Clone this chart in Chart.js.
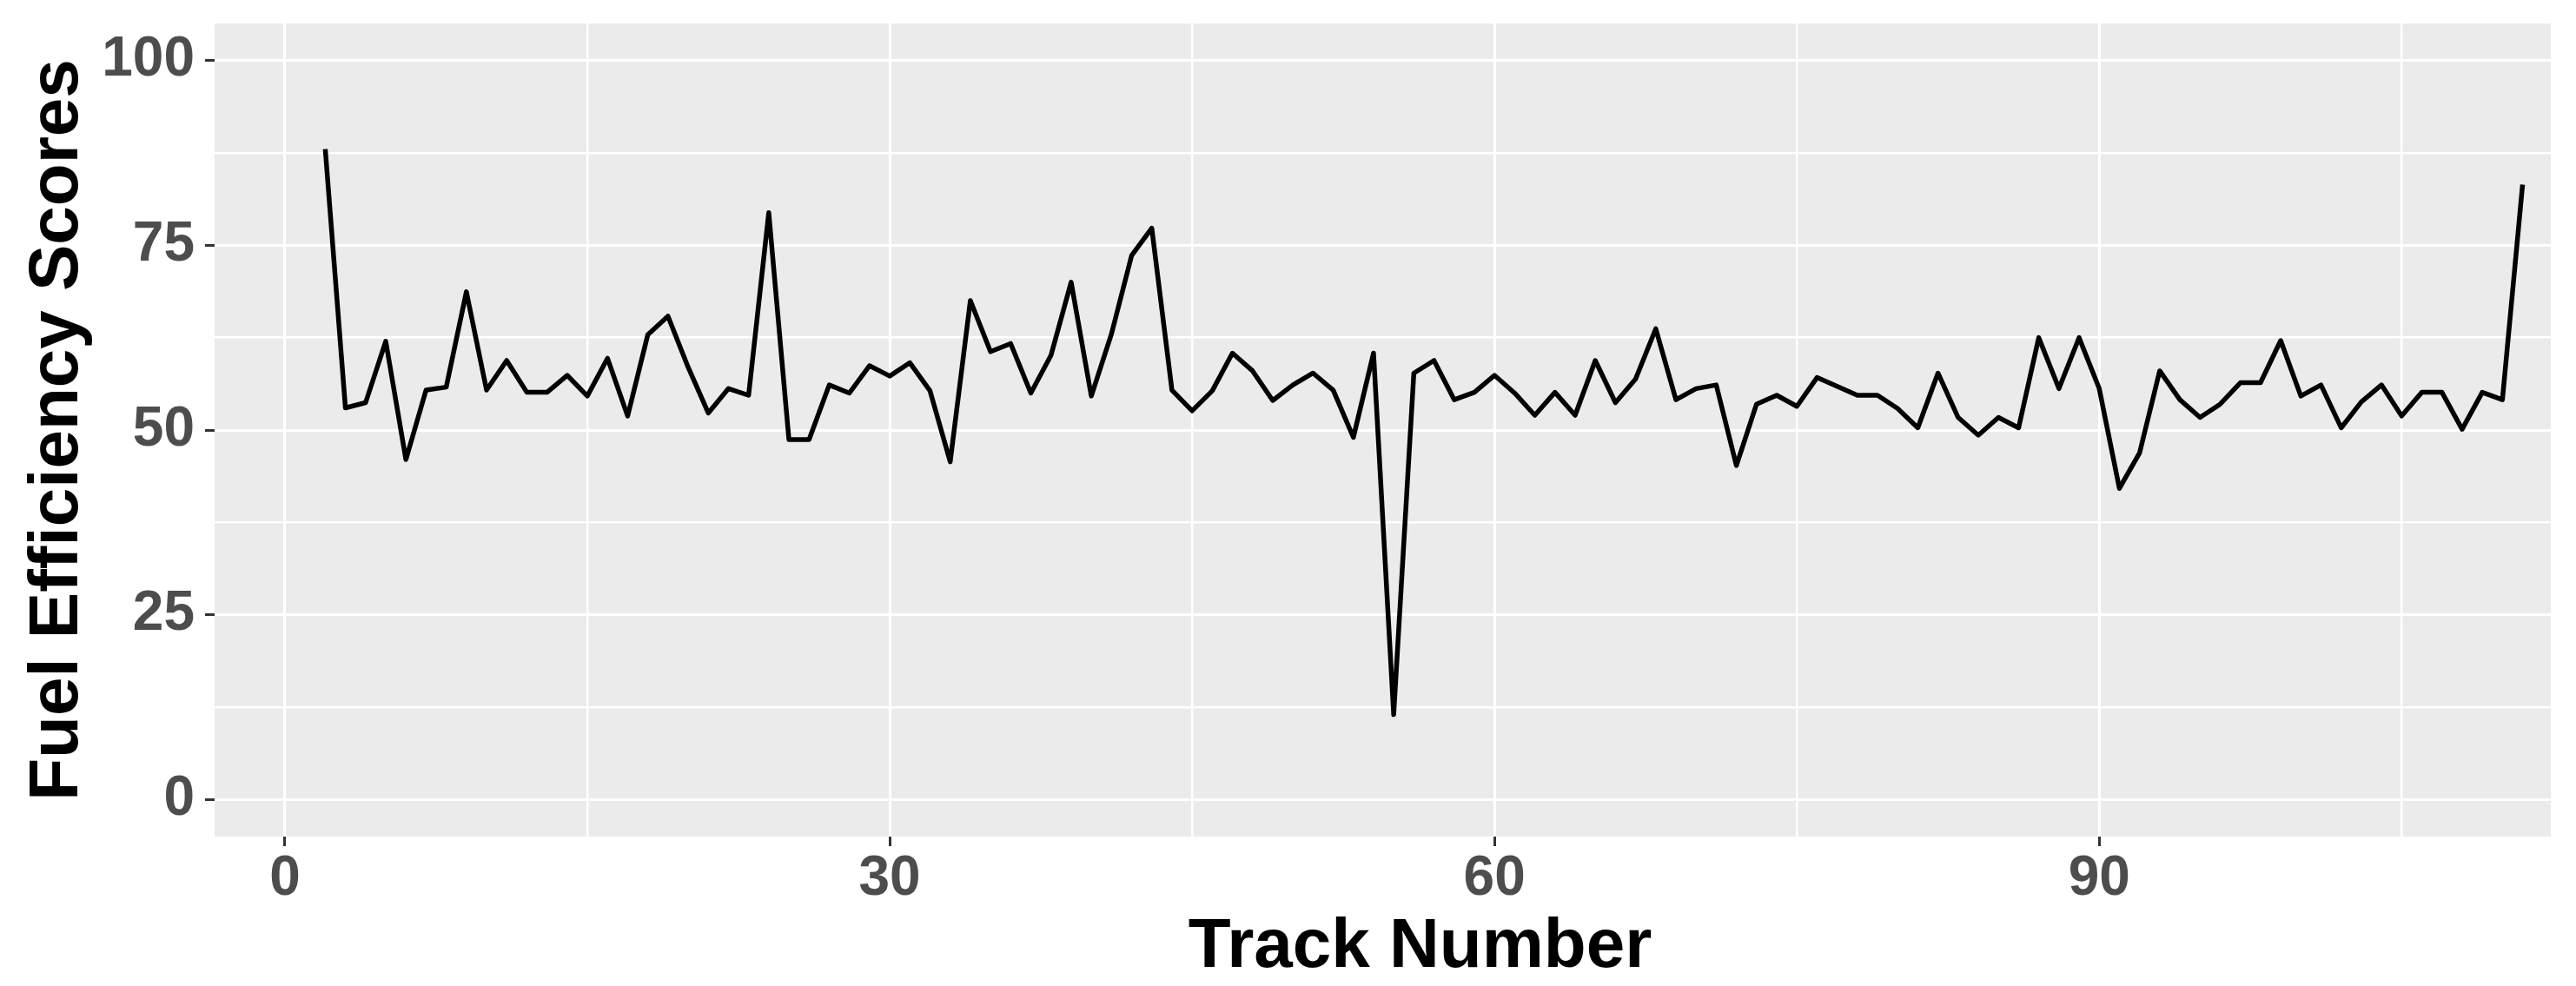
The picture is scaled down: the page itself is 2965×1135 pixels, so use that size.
<!DOCTYPE html>
<html>
<head>
<meta charset="utf-8">
<script src="https://cdn.jsdelivr.net/npm/chart.js@4.4.1/dist/chart.umd.min.js"></script>
<style>
  html, body { margin: 0; padding: 0; background: #ffffff; }
  #wrap { width: 2965px; height: 1135px; }
</style>
</head>
<body>
<div id="wrap"><canvas id="chart" width="2965" height="1135"></canvas></div>
<script>
// データ
const firstTrack = 2;
const scores = [
  88, 53, 53.7, 62, 46, 55.4, 55.8, 68.7, 55.4, 59.4,
  55.1, 55.1, 57.4, 54.6, 59.7, 51.9, 62.9, 65.4, 58.5, 52.3,
  55.6, 54.7, 79.4, 48.7, 48.7, 56.1, 55, 58.7, 57.3, 59.1,
  55.3, 45.7, 67.5, 60.6, 61.7, 55, 60.1, 70, 54.6, 63,
  73.6, 77.3, 55.4, 52.6, 55.3, 60.4, 58, 54, 56.1, 57.7,
  55.4, 49, 60.4, 11.5, 57.7, 59.4, 54.1, 55.1, 57.4, 55,
  52, 55.1, 52, 59.4, 53.7, 56.9, 63.7, 54.1, 55.6, 56.1,
  45.2, 53.5, 54.7, 53.2, 57.1, 55.9, 54.7, 54.7, 52.9, 50.3,
  57.7, 51.7, 49.3, 51.7, 50.3, 62.5, 55.6, 62.5, 55.6, 42.1,
  46.9, 58, 54.1, 51.7, 53.5, 56.4, 56.4, 62.1, 54.6, 56.1,
  50.3, 53.8, 56.1, 51.9, 55.1, 55.1, 50.1, 55.1, 54.1, 83.2
];

// 目盛り（主目盛りにラベル、副目盛りはグリッドのみ）
const xGridValues = [0, 15, 30, 45, 60, 75, 90, 105];
const xLabelValues = [0, 30, 60, 90];
const yGridValues = [0, 12.5, 25, 37.5, 50, 62.5, 75, 87.5, 100];
const yLabelValues = [0, 25, 50, 75, 100];

const xTitle = "Track Number";
const yTitle = "Fuel Efficiency Scores";

const points = scores.map((y, i) => ({ x: firstTrack + i, y: y }));

const fontFamily = "'Liberation Sans', Arial, sans-serif";
const tickFont = { family: fontFamily, size: 64, weight: "bold" };
const titleFont = { family: fontFamily, size: 80, weight: "bold" };

// パネル背景（灰色）
const panelBackground = {
  id: "panelBackground",
  beforeDraw(chart) {
    const { ctx, chartArea } = chart;
    ctx.save();
    ctx.fillStyle = "#EBEBEB";
    ctx.fillRect(chartArea.left, chartArea.top, chartArea.right - chartArea.left, chartArea.bottom - chartArea.top);
    ctx.restore();
  },
};

// x軸タイトル（元の図では少し右寄り）
const xAxisTitle = {
  id: "xAxisTitle",
  afterDraw(chart) {
    const { ctx, chartArea } = chart;
    ctx.save();
    ctx.font = "bold 80px " + fontFamily;
    ctx.fillStyle = "#000000";
    ctx.textAlign = "center";
    ctx.textBaseline = "alphabetic";
    ctx.fillText(xTitle, (chartArea.left + chartArea.right) / 2 + 43, 1113);
    ctx.restore();
  },
};

const ctx = document.getElementById("chart").getContext("2d");
new Chart(ctx, {
  type: "line",
  data: {
    datasets: [
      {
        data: points,
        borderColor: "#000000",
        borderWidth: 5.5,
        borderJoinStyle: "round",
        pointRadius: 0,
        tension: 0,
        fill: false,
      },
    ],
  },
  options: {
    responsive: false,
    animation: false,
    layout: { padding: { left: 0, top: 27, right: 29, bottom: 0 } },
    plugins: {
      legend: { display: false },
      tooltip: { enabled: false },
    },
    scales: {
      x: {
        type: "linear",
        min: -3.49,
        max: 112.4,
        border: { display: false },
        afterBuildTicks: (scale) => {
          scale.ticks = xGridValues.map((v) => ({ value: v }));
        },
        afterFit: (scale) => {
          scale.height = 172;
          scale.paddingLeft = 0;
          scale.paddingRight = 0;
        },
        grid: {
          color: "#FFFFFF",
          lineWidth: (c) => (xLabelValues.includes(c.tick.value) ? 3 : 2.5),
          drawTicks: true,
          tickLength: 11,
          tickWidth: 3,
          tickColor: (c) => (xLabelValues.includes(c.tick.value) ? "#333333" : "rgba(0,0,0,0)"),
        },
        ticks: {
          autoSkip: false,
          maxRotation: 0,
          padding: 0,
          color: "#4D4D4D",
          font: tickFont,
          callback: (v) => (xLabelValues.includes(v) ? String(v) : ""),
        },
        title: { display: false },
      },
      y: {
        type: "linear",
        min: -5,
        max: 105,
        border: { display: false },
        afterBuildTicks: (scale) => {
          scale.ticks = yGridValues.map((v) => ({ value: v }));
        },
        afterFit: (scale) => {
          scale.width = 247;
          scale.paddingTop = 0;
          scale.paddingBottom = 0;
        },
        grid: {
          color: "#FFFFFF",
          lineWidth: (c) => (yLabelValues.includes(c.tick.value) ? 3 : 2.5),
          drawTicks: true,
          tickLength: 11,
          tickWidth: 3,
          tickColor: (c) => (yLabelValues.includes(c.tick.value) ? "#333333" : "rgba(0,0,0,0)"),
        },
        ticks: {
          autoSkip: false,
          padding: 12,
          color: "#4D4D4D",
          font: tickFont,
          callback: (v) => (yLabelValues.includes(v) ? String(v) : ""),
        },
        title: {
          display: true,
          text: yTitle,
          color: "#000000",
          font: titleFont,
          padding: { top: 19, bottom: 0 },
        },
      },
    },
  },
  plugins: [panelBackground, xAxisTitle],
});
</script>
</body>
</html>
